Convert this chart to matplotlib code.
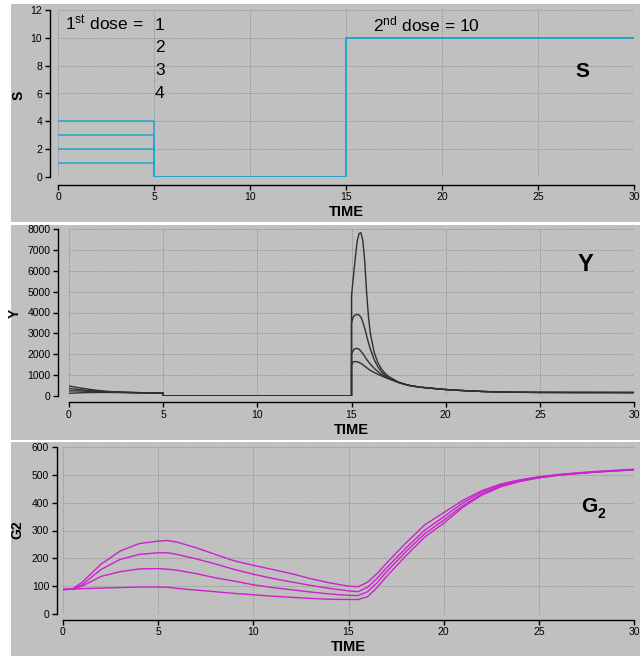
import matplotlib
matplotlib.use("Agg")
import matplotlib.pyplot as plt
from matplotlib.patches import Rectangle

plt.rcParams['font.family'] = ['Liberation Sans', 'DejaVu Sans']
plt.rcParams['mathtext.fontset'] = 'custom'
plt.rcParams['mathtext.rm'] = 'Liberation Sans'
plt.rcParams['mathtext.it'] = 'Liberation Sans:italic'
plt.rcParams['mathtext.bf'] = 'Liberation Sans:bold'

# ---------------- data ----------------
first_doses = [1, 2, 3, 4]
second_dose = 10
S_time = [0, 5, 15, 30]

Y_time = [0, 0.5, 1, 1.5, 2, 2.5, 3, 4, 5, 5, 15, 15, 15.1, 15.2, 15.3, 15.4,
          15.5, 15.6, 15.7, 15.8, 15.9, 16.0, 16.2, 16.4, 16.6, 16.8, 17.0,
          17.5, 18, 18.5, 19, 20, 21, 22, 23, 24, 25, 27, 30]
Y_dose1 = [130, 150, 165, 170, 170, 168, 160, 145, 135, 5, 5, 4800, 5700, 6600,
           7400, 7780, 7820, 7450, 6500, 5000, 3800, 3000, 2100, 1600, 1280,
           1070, 920, 660, 520, 440, 390, 310, 255, 215, 190, 178, 172, 168, 166]
Y_dose2 = [250, 240, 225, 205, 190, 180, 170, 150, 137, 5, 5, 3500, 3800, 3880,
           3910, 3880, 3780, 3550, 3250, 2900, 2550, 2250, 1750, 1400, 1150,
           980, 860, 660, 520, 440, 390, 310, 255, 215, 190, 178, 172, 168, 166]
Y_dose3 = [360, 310, 270, 235, 205, 190, 175, 152, 138, 5, 5, 2000, 2200, 2270,
           2280, 2240, 2150, 2030, 1900, 1760, 1640, 1530, 1330, 1170, 1030,
           920, 830, 650, 515, 440, 390, 310, 255, 215, 190, 178, 172, 168, 166]
Y_dose4 = [480, 400, 330, 270, 225, 200, 180, 155, 140, 5, 5, 1500, 1640, 1650,
           1640, 1610, 1560, 1500, 1430, 1360, 1290, 1230, 1130, 1040, 960,
           880, 810, 640, 510, 440, 390, 310, 255, 215, 190, 178, 172, 168, 166]

G_time = [0, 0.5, 1, 2, 3, 4, 5, 5.5, 6, 7, 8, 9, 10, 11, 12, 13, 14, 15, 15.5,
          16, 16.5, 17, 18, 19, 20, 21, 22, 23, 24, 25, 26, 27, 28, 29, 30]
G_dose1 = [88, 89, 91, 93, 95, 97, 97, 96, 92, 86, 80, 74, 69, 64, 60, 56, 53,
           52, 52, 62, 95, 135, 208, 276, 326, 383, 427, 457, 476, 489, 498, 504,
           510, 514, 518]
G_dose2 = [88, 89, 100, 135, 152, 162, 163, 161, 157, 145, 130, 118, 105, 95, 87,
           79, 72, 67, 66, 80, 112, 152, 223, 288, 337, 389, 431, 460, 478, 490,
           499, 505, 510, 514, 518]
G_dose3 = [88, 89, 105, 160, 196, 214, 220, 220, 214, 198, 180, 160, 143, 128,
           115, 103, 92, 83, 80, 96, 128, 166, 236, 301, 349, 399, 438, 464, 480,
           492, 500, 506, 511, 515, 519]
G_dose4 = [88, 90, 114, 179, 226, 253, 262, 264, 258, 238, 214, 191, 175, 160,
           145, 127, 112, 100, 98, 114, 145, 183, 254, 320, 364, 408, 443, 467,
           482, 493, 501, 507, 512, 516, 520]

x_ticks = [0, 5, 10, 15, 20, 25, 30]
S_ticks = [0, 2, 4, 6, 8, 10, 12]
Y_ticks = [0, 1000, 2000, 3000, 4000, 5000, 6000, 7000, 8000]
G_ticks = [0, 100, 200, 300, 400, 500, 600]

# ---------------- layout ----------------
W, H = 640, 656
fig = plt.figure(figsize=(W / 100, H / 100), dpi=100)
fig.patch.set_facecolor('white')
BG = '#c0c0c0'


def rect_px(x0, y0, x1, y1):
    return [x0 / W, 1 - y1 / H, (x1 - x0) / W, (y1 - y0) / H]


for (y0, y1) in [(4, 221.5), (225, 440), (442, 656)]:
    fig.add_artist(Rectangle((11 / W, 1 - y1 / H), (W - 11) / W, (y1 - y0) / H,
                             transform=fig.transFigure, facecolor=BG,
                             edgecolor='none', zorder=0))

tick_font = ['Liberation Sans Narrow', 'Liberation Sans', 'DejaVu Sans']


def style(ax, yticks, left_off, bottom_off):
    ax.set_facecolor('none')
    ax.set_xlim(0, 30)
    ax.set_ylim(yticks[0], yticks[-1])
    ax.set_xticks(x_ticks)
    ax.set_yticks(yticks)
    ax.grid(True, color='#8e8e8e', linestyle=(0, (1, 1.2)), linewidth=0.7)
    ax.set_axisbelow(True)
    for s in ['top', 'right']:
        ax.spines[s].set_visible(False)
    ax.spines['left'].set_position(('outward', left_off))
    ax.spines['bottom'].set_position(('outward', bottom_off))
    for s in ['left', 'bottom']:
        ax.spines[s].set_color('black')
        ax.spines[s].set_linewidth(1.0)
    ax.tick_params(direction='out', length=3.5, width=1.0, colors='black',
                   labelsize=7.5, pad=2)
    for lab in ax.get_xticklabels() + ax.get_yticklabels():
        lab.set_family(tick_font)


# Panel 1: S
ax1 = fig.add_axes(rect_px(58, 10, 634, 177))
style(ax1, S_ticks, 6, 5.5)
for d in first_doses:
    ax1.step(S_time, [d, 0, second_dose, second_dose], where='post',
             color='#22a6c8', lw=1.1)

# Panel 2: Y
ax2 = fig.add_axes(rect_px(69, 229, 634, 396))
style(ax2, Y_ticks, 8, 4.5)
for ys in [Y_dose1, Y_dose2, Y_dose3, Y_dose4]:
    ax2.plot(Y_time, ys, color='#303030', lw=1.0)

# Panel 3: G2
ax3 = fig.add_axes(rect_px(63, 447, 634, 614))
style(ax3, G_ticks, 4.5, 4)
for gs in [G_dose1, G_dose2, G_dose3, G_dose4]:
    ax3.plot(G_time, gs, color='#cc22cc', lw=1.0)


def ftext(px, py, s, **kw):
    fig.text(px / W, 1 - py / H, s, **kw)


# axis labels
for cx, cy in [(346, 212), (351.5, 430), (348.5, 647)]:
    ftext(cx, cy, 'TIME', ha='center', va='center', fontsize=10.5,
          fontweight='bold')
ftext(19, 95, 'S', rotation=90, ha='center', va='center', fontsize=10,
      fontweight='bold')
ftext(15, 313, 'Y', rotation=90, ha='center', va='center', fontsize=10,
      fontweight='bold')
ftext(17, 530, 'G2', rotation=90, ha='center', va='center', fontsize=10,
      fontweight='bold')

# annotations
ftext(65, 30, r'1$^{\mathrm{st}}$ dose = ', ha='left', va='baseline',
      fontsize=12.5)
for i, d in enumerate(first_doses):
    ftext(155, 30 + i * 22.5, str(d), ha='left', va='baseline', fontsize=12.5)
ftext(373, 31, r'2$^{\mathrm{nd}}$ dose = ' + str(second_dose), ha='left',
      va='baseline', fontsize=12.5)

ftext(575, 77, 'S', ha='left', va='baseline', fontsize=15, fontweight='bold')
ftext(578, 271, 'Y', ha='left', va='baseline', fontsize=17, fontweight='bold')
ftext(581, 512, 'G', ha='left', va='baseline', fontsize=15, fontweight='bold')
ftext(598, 518, '2', ha='left', va='baseline', fontsize=10, fontweight='bold')

fig.savefig('out.png', dpi=100, facecolor='white')
